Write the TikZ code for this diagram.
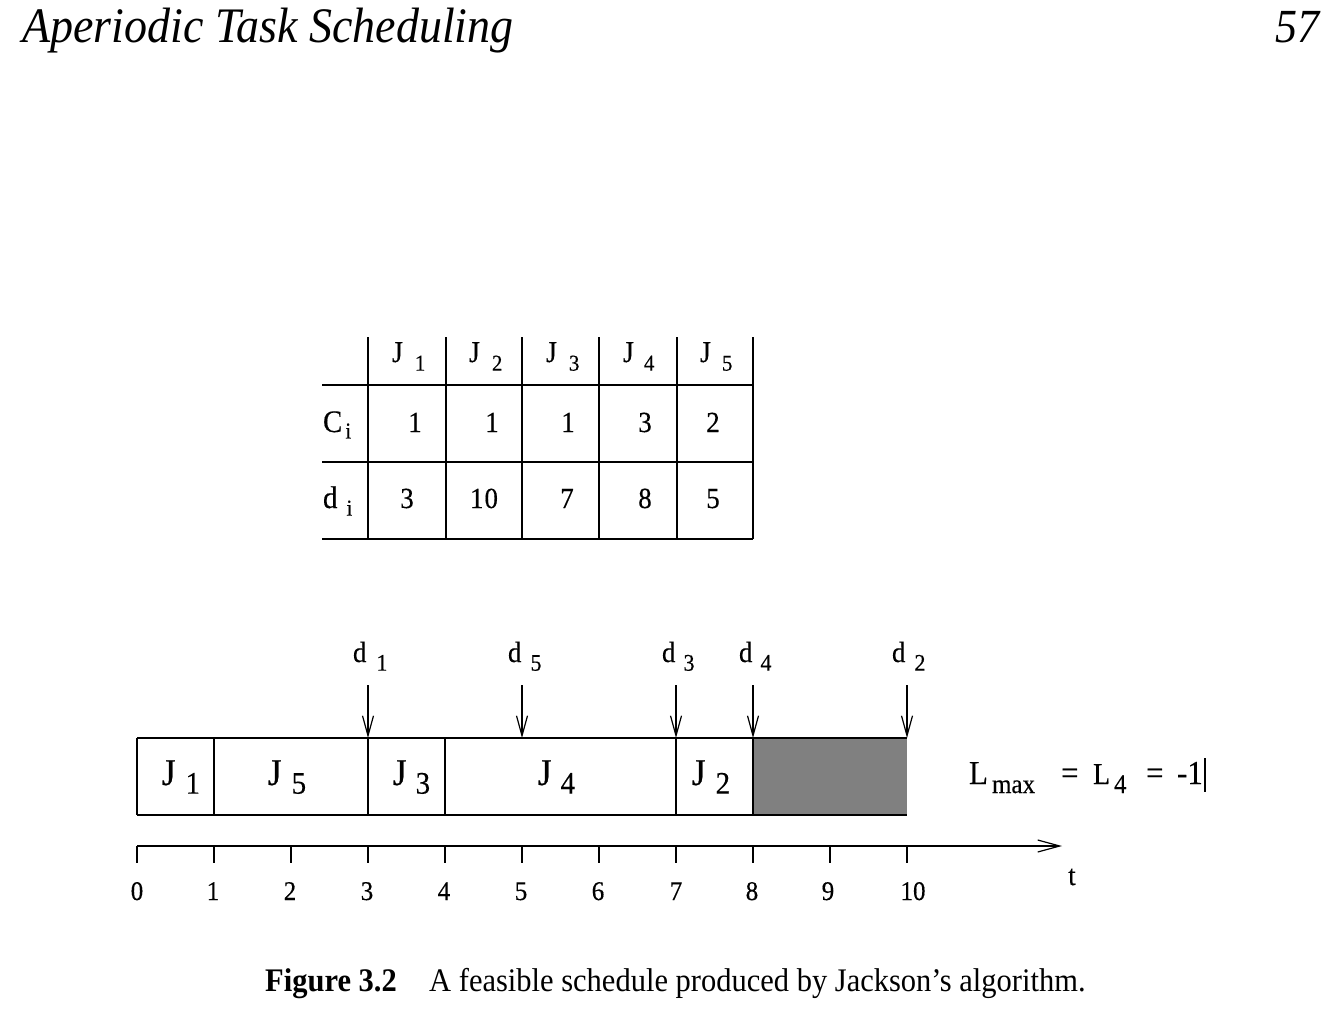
\documentclass[tikz,border=0pt]{standalone}
\usepackage{fontspec}
\usepackage{graphicx}
\setmainfont{Liberation Serif}
\newfontfamily\dfont{Liberation Serif}[FakeBold=0.35]
\usetikzlibrary{arrows.meta}
\newcommand\fs[1]{\fontsize{#1}{#1}\selectfont}
\newcommand\vst[1]{\scalebox{1}[1.08]{#1}}
% main, sub, mainsize, subsize, gap, drop
\newcommand\lbl[6]{\vst{{\fs{#3}#1}\hspace{#5pt}\raisebox{-#6pt}{\fs{#4}#2}}}
\begin{document}
\begin{tikzpicture}[x=1pt,y=-1pt,
  txt/.style={inner sep=0pt,outer sep=0pt,anchor=base west,font=\dfont},
  ctxt/.style={inner sep=0pt,outer sep=0pt,anchor=base,font=\dfont},
  ln/.style={line width=1.4pt},
  dl/.style={line width=1.3pt,-{Straight Barb[length=20pt,width=11pt,line width=1.2pt]}},
  ax/.style={line width=1.4pt,-{Straight Barb[length=22pt,width=12pt,line width=1.2pt]}}]
\useasboundingbox (0,0) rectangle (1337,1026);
\fill[white] (0,0) rectangle (1337,1026);

% header
\node[inner sep=0pt,anchor=base west] (title) at (22,42) {\vst{\fs{46}\itshape Aperiodic Task Scheduling}};
\node[inner sep=0pt,anchor=base east] (page) at (1320,42) {\vst{\fs{44}\itshape 57}};

% table lines
\draw[ln] (322,385) -- (753,385);
\draw[ln] (322,462) -- (753,462);
\draw[ln] (322,539) -- (753,539);
\foreach \x in {368,446,522,599,677,753} \draw[ln] (\x,337) -- (\x,539);

% table header
\node[txt] (hj1) at (392,362) {\lbl{J}{1}{28}{21}{12}{8}};
\node[txt] (hj2) at (469,362) {\lbl{J}{2}{28}{21}{12}{8}};
\node[txt] (hj3) at (546,362) {\lbl{J}{3}{28}{21}{12}{8}};
\node[txt] (hj4) at (623,362) {\lbl{J}{4}{28}{21}{10}{8}};
\node[txt] (hj5) at (700,362) {\lbl{J}{5}{28}{21}{11}{8}};
% row labels
\node[txt] (rc) at (323,432) {\lbl{C}{i}{29}{21}{3}{6}};
\node[txt] (rd) at (323,508) {\lbl{d}{i}{29}{21}{9}{7}};
% C values
\node[ctxt] (c1) at (415,432) {\vst{\fs{27}1}};
\node[ctxt] (c2) at (492,432) {\vst{\fs{27}1}};
\node[ctxt] (c3) at (568,432) {\vst{\fs{27}1}};
\node[ctxt] (c4) at (645,432) {\vst{\fs{27}3}};
\node[ctxt] (c5) at (713,432) {\vst{\fs{27}2}};
% d values
\node[ctxt] (v1) at (407,508) {\vst{\fs{27}3}};
\node[ctxt] (v2) at (484,508) {\vst{\fs{27}1\kern1pt0}};
\node[ctxt] (v3) at (567,508) {\vst{\fs{27}7}};
\node[ctxt] (v4) at (645,508) {\vst{\fs{27}8}};
\node[ctxt] (v5) at (713,508) {\vst{\fs{27}5}};

% schedule
\fill[black!50] (753,738) rectangle (907,815);
\draw[ln] (137,738) -- (907,738);
\draw[ln] (137,815) -- (907,815);
\foreach \x in {137,214,368,445,676,753} \draw[ln] (\x,738) -- (\x,815);

\node[txt] (sj1) at (162,785) {\lbl{J}{1}{35}{29}{10}{8}};
\node[txt] (sj5) at (268,785) {\lbl{J}{5}{35}{29}{10}{8}};
\node[txt] (sj3) at (393,785) {\lbl{J}{3}{35}{29}{9}{8}};
\node[txt] (sj4) at (538,785) {\lbl{J}{4}{35}{29}{9}{8}};
\node[txt] (sj2) at (692,785) {\lbl{J}{2}{35}{29}{10}{8}};

% deadlines
\node[txt] (ld1) at (353,662) {\lbl{d}{1}{27}{22}{10}{8}};
\node[txt] (ld5) at (508,662) {\lbl{d}{5}{27}{22}{9}{8}};
\node[txt] (ld3) at (662,662) {\lbl{d}{3}{27}{22}{8}{8}};
\node[txt] (ld4) at (739,662) {\lbl{d}{4}{27}{22}{8}{8}};
\node[txt] (ld2) at (892,662) {\lbl{d}{2}{27}{22}{9}{8}};
\foreach \n/\x in {1/368,5/522,3/676,4/753,2/907}{
  \coordinate (a\n) at (\x,685);
  \coordinate (b\n) at (\x,738);
  \draw[dl] (a\n) -- (b\n);
}

% Lmax
\node[txt] (lL) at (969,784) {\vst{\fs{31}L}};
\node[txt] (lmax) at (992,793) {\vst{\fs{25}max}};
\node[txt] (leq1) at (1061,784) {\vst{\fs{31}=}};
\node[txt] (lL4) at (1093,784) {\vst{\fs{28}L}};
\node[txt] (l4) at (1114,793) {\vst{\fs{25}4}};
\node[txt] (leq2) at (1146,784) {\vst{\fs{31}=}};
\node[txt] (lm1) at (1177,784) {\vst{\fs{31}-1}};
\coordinate (bar1) at (1205,758);
\coordinate (bar2) at (1205,792);
\draw[line width=1.3pt] (bar1) -- (bar2);

% axis
\coordinate (ax0) at (137,846);
\coordinate (axe) at (1062,846);
\draw[ax] (ax0) -- (axe);
\foreach \i in {0,...,10}{
  \coordinate (tk\i) at ({137+77*\i},846);
  \draw[ln] (tk\i) -- ++(0,17);
}
\foreach \i/\x in {0/137,1/213,2/290,3/367,4/444,5/521,6/598,7/676,8/752,9/828,10/913}
  \node[ctxt] (tl\i) at (\x,900) {\vst{\fs{25}\i}};
\node[ctxt] (tlab) at (1072,885) {\vst{\fs{27}t}};

% caption
\node[inner sep=0pt,anchor=base west] (capa) at (265,991) {\vst{\fs{30.5}\bfseries Figure 3.2}};
\node[inner sep=0pt,anchor=base west] (capb) at (429,991) {\vst{\fs{30.5}A feasible schedule produced by Jackson’s algorithm.}};
\end{tikzpicture}
\end{document}
